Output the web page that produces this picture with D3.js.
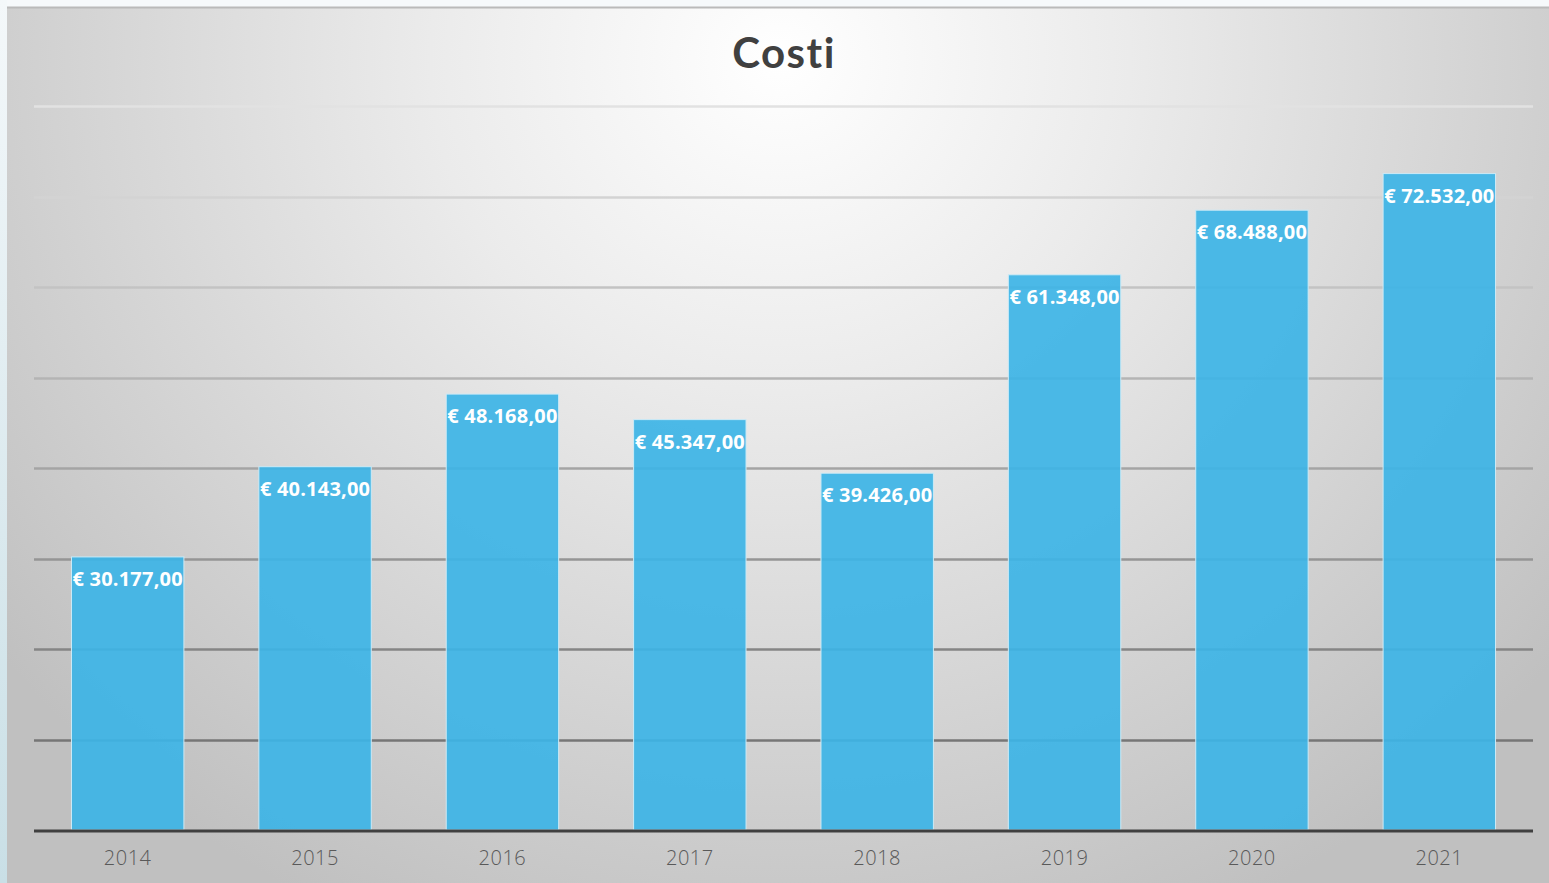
<!DOCTYPE html>
<html>
<head>
<meta charset="utf-8">
<script src="https://cdnjs.cloudflare.com/ajax/libs/d3/7.8.5/d3.min.js"></script>
<style>
  html, body { margin: 0; padding: 0; background: #f6f9fb; }
  svg { display: block; }
</style>
</head>
<body>
<svg id="chart" width="1549" height="883"></svg>
<script>
const years = ['2014', '2015', '2016', '2017', '2018', '2019', '2020', '2021']
const costs = [30177, 40143, 48168, 45347, 39426, 61348, 68488, 72532]
const gridValues = [0, 10000, 20000, 30000, 40000, 50000, 60000, 70000, 80000]
const title = 'Costi'

const data = years.map((y, i) => ({year: y, value: costs[i]}))

const svg = d3.select('#chart')
let width = 1549,
    height = 883,
    margin = {top: 106, bottom: 53, left: 34, right: 16}

const defs = svg.append('defs')

// pale strip on the left edge of the slide
const strip = defs.append('linearGradient')
  .attr('id', 'strip').attr('x1', 0).attr('y1', 0).attr('x2', 0).attr('y2', 1)
strip.append('stop').attr('offset', '0%').attr('stop-color', '#f4f8fa')
strip.append('stop').attr('offset', '100%').attr('stop-color', '#c9dfe6')

const bg = defs.append('radialGradient')
  .attr('id', 'bg')
  .attr('gradientUnits', 'userSpaceOnUse')
  .attr('cx', 780).attr('cy', 60).attr('r', 1000)
  .attr('gradientTransform', 'translate(780,60) scale(1,0.95) translate(-780,-60)')
bg.append('stop').attr('offset', '0%').attr('stop-color', '#ffffff')
bg.append('stop').attr('offset', '35%').attr('stop-color', '#ebebeb')
bg.append('stop').attr('offset', '100%').attr('stop-color', '#c0c0c0')

svg.append('rect')
  .attr('x', 0).attr('y', 0).attr('width', 7).attr('height', height)
  .attr('fill', 'url(#strip)')

svg.append('rect')
  .attr('x', 7).attr('y', 7).attr('width', width - 7).attr('height', height - 7)
  .attr('fill', 'url(#bg)')

svg.append('line')
  .attr('x1', 7).attr('x2', width).attr('y1', 7.5).attr('y2', 7.5)
  .attr('stroke', '#bababa').attr('stroke-width', 2)

const group = svg.append('g')

const xScale = d3.scaleBand()
  .domain(years)
  .range([margin.left, width - margin.right])
  .paddingInner(0.4)
  .paddingOuter(0.2)

const yScale = d3.scaleLinear()
  .domain([0, 80000])
  .range([height - margin.bottom, margin.top])

// gridlines get darker towards the bottom
const gridColor = d3.scaleLinear()
  .domain([10000, 80000])
  .range(['#767676', '#e2e2e2'])

group.append('g')
  .selectAll('line')
  .data(gridValues.filter(v => v > 0))
  .join('line')
    .attr('x1', margin.left)
    .attr('x2', width - margin.right)
    .attr('y1', d => Math.round(yScale(d)) + 0.5)
    .attr('y2', d => Math.round(yScale(d)) + 0.5)
    .attr('stroke', d => gridColor(d))
    .attr('stroke-width', 2.5)

group.append('g')
  .selectAll('rect')
  .data(data)
  .join('rect')
    .attr('x', d => xScale(d.year))
    .attr('y', d => yScale(d.value))
    .attr('width', xScale.bandwidth())
    .attr('height', d => yScale(0) - yScale(d.value))
    .attr('fill', '#3db4e6')
    .attr('fill-opacity', 0.92)
    .attr('stroke', '#cdeaf6')
    .attr('stroke-width', 1)

// baseline
group.append('line')
  .attr('x1', margin.left)
  .attr('x2', width - margin.right)
  .attr('y1', yScale(0) + 1)
  .attr('y2', yScale(0) + 1)
  .attr('stroke', '#404040')
  .attr('stroke-width', 3)

const euro = v => '€ ' + d3.format(',.2f')(v).replace(/,/g, '#').replace('.', ',').replace(/#/g, '.')

group.append('g')
  .selectAll('text')
  .data(data)
  .join('text')
    .attr('x', d => xScale(d.year) + xScale.bandwidth() / 2)
    .attr('y', d => yScale(d.value) + 29)
    .attr('text-anchor', 'middle')
    .attr('font-family', 'Open Sans, sans-serif')
    .attr('font-weight', 'bold')
    .attr('font-size', 20)
    .attr('letter-spacing', 0.2)
    .attr('fill', '#ffffff')
    .text(d => euro(d.value))

const xAxis = group.append('g')
  .attr('transform', `translate(0, ${yScale(0)})`)
  .call(d3.axisBottom(xScale).tickSize(0).tickPadding(21))
xAxis.select('.domain').remove()
xAxis.selectAll('text')
  .attr('font-family', 'Open Sans, sans-serif')
  .attr('font-size', 20)
  .attr('font-weight', 300)
  .attr('letter-spacing', 0.5)
  .attr('fill', '#595959')

svg.append('text')
  .attr('x', 784)
  .attr('y', 68)
  .attr('text-anchor', 'middle')
  .attr('font-family', 'Lato, sans-serif')
  .attr('font-weight', 'bold')
  .attr('font-size', 42)
  .attr('letter-spacing', 1.5)
  .attr('fill', '#404040')
  .text(title)
</script>
</body>
</html>
